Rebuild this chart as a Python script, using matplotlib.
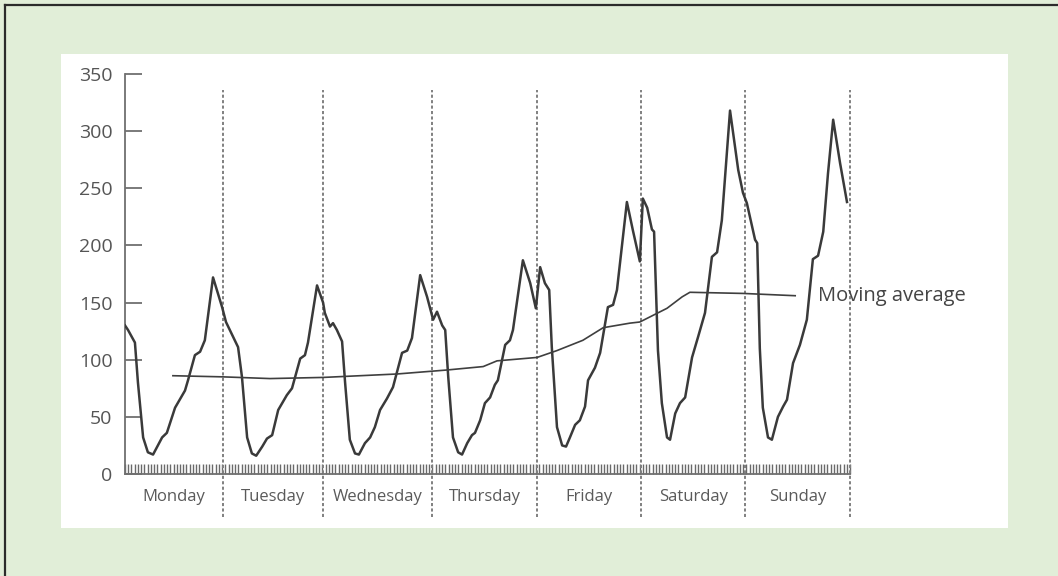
import numpy as np
import matplotlib.pyplot as plt
from matplotlib.patches import Rectangle
from matplotlib.lines import Line2D

# hourly demand (x in hours from Monday 00:00)
hours = [0.0, 0.7, 2.3, 3.0, 4.2, 5.3, 6.5, 8.6, 9.7, 11.6, 13.9, 14.6, 16.2, 17.4, 18.5,
         20.4, 22.5, 23.4, 24.3, 26.2, 27.1, 28.3, 29.4, 30.4, 31.8, 32.9, 34.1, 35.5,
         37.5, 38.7, 40.6, 41.7, 42.4, 44.5, 45.9, 46.3, 47.5, 48.2, 49.1, 50.3, 51.0,
         52.1, 53.3, 54.2, 55.6, 56.8, 57.9, 59.1, 60.7, 62.1, 64.2, 65.4, 66.5, 68.4,
         70.0, 71.4, 72.3, 73.5, 74.2, 74.9, 76.0, 77.2, 78.1, 79.3, 80.4, 81.1, 82.3,
         83.4, 84.6, 85.7, 86.4, 88.1, 89.2, 89.9, 92.2, 93.9, 95.2, 96.2, 97.3, 98.3,
         98.9, 100.1, 101.3, 102.2, 103.1, 104.3, 105.4, 106.6, 107.3, 108.9, 110.1,
         111.0, 111.9, 113.1, 114.0, 116.3, 117.7, 119.3, 120.0, 121.0, 122.1, 122.6,
         123.5, 124.4, 125.6, 126.3, 127.5, 128.6, 129.8, 131.4, 132.8, 134.4, 136.0,
         137.2, 138.3, 139.5, 140.2, 142.1, 143.2, 144.1, 146.0, 146.5, 147.1, 147.8,
         149.0, 149.9, 151.3, 152.5, 153.4, 154.8, 156.4, 158.0, 159.4, 160.6, 161.8,
         162.9, 164.1, 165.7, 167.3]
demand = [130, 126, 115, 80, 32, 19, 17, 32, 36, 58, 73, 82, 104, 107, 117,
          172, 146, 133, 126, 111, 85, 32, 18, 16, 24, 31, 34, 56,
          69, 75, 101, 104, 115, 165, 150, 141, 129, 132, 126, 116, 80,
          30, 18, 17, 27, 32, 41, 56, 66, 76, 106, 108, 119, 174,
          155, 135, 142, 130, 126, 85, 32, 19, 17, 27, 34, 36, 47,
          62, 67, 78, 82, 113, 117, 126, 187, 167, 145, 181, 167, 161,
          111, 41, 25, 24, 32, 43, 47, 59, 82, 93, 106,
          126, 146, 148, 161, 238, 213, 186, 241, 233, 214, 212,
          108, 62, 32, 30, 53, 62, 67, 102, 120, 141, 190,
          194, 222, 283, 318, 266, 246, 237, 205, 202, 110, 58,
          32, 30, 50, 59, 65, 97, 113, 135, 188, 191, 212,
          263, 310, 272, 238]

ma_hours = [11.1, 22.7, 33.6, 45.9, 63.0, 74.6, 83.0, 86.2, 95.5, 100.1, 106.1,
            110.8, 117.0, 119.3, 125.6, 129.1, 130.9, 143.2, 155.3]
ma_values = [86, 85, 83.5, 84.5, 87.5, 91, 94, 99, 102, 108, 117,
             128, 132, 133, 145, 155, 159, 158, 156]

days = ["Monday", "Tuesday", "Wednesday", "Thursday", "Friday", "Saturday", "Sunday"]
day_edges = [0, 22.7, 45.9, 71.1, 95.5, 119.6, 143.7, 168]
yticks = [0, 50, 100, 150, 200, 250, 300, 350]

plt.rcParams["font.family"] = ["Open Sans", "DejaVu Sans"]

fig = plt.figure(figsize=(10.58, 5.76), dpi=100)
fig.patch.set_facecolor("#e1eed8")

# white inner panel + frame lines
fig.add_artist(Rectangle((61 / 1058, 48 / 576), 947 / 1058, 474 / 576,
                         transform=fig.transFigure, facecolor="white",
                         edgecolor="none", zorder=-1))
fig.add_artist(Line2D([5 / 1058, 5 / 1058], [0, 571 / 576], transform=fig.transFigure,
                      color="#2b2b2b", lw=1.6))
fig.add_artist(Line2D([5 / 1058, 1], [571 / 576, 571 / 576], transform=fig.transFigure,
                      color="#2b2b2b", lw=1.6))

ax = fig.add_axes([125 / 1058, 102 / 576, 725 / 1058, 400 / 576])
ax.set_facecolor("none")

ax.plot(hours, demand, color="#3a3a3a", lw=1.8, solid_joinstyle="round", zorder=3)
ax.plot(ma_hours, ma_values, color="#3f3f3f", lw=1.2, zorder=3)
ax.text(160.6, 156, "Moving average", ha="left", va="center",
        fontsize=14.5, color="#444444")

# day separators
for x in day_edges[1:]:
    ax.plot([x, x], [-38, 336], color="#808080", lw=1.4,
            linestyle=(0, (1.6, 1.2)), clip_on=False, zorder=2)

for i, name in enumerate(days):
    ax.text((day_edges[i] + day_edges[i + 1]) / 2, -20, name,
            ha="center", va="center", fontsize=12, color="#5a5a5a")

ax.set_xlim(0, 168)
ax.set_ylim(0, 350)
ax.set_yticks(yticks)
ax.set_xticks([])
ax.set_xticks(np.arange(0, 168.01, 0.75), minor=True)

for side in ["top", "right"]:
    ax.spines[side].set_visible(False)
for side in ["left", "bottom"]:
    ax.spines[side].set_color("#707070")
    ax.spines[side].set_linewidth(1.3)

ax.tick_params(axis="y", direction="in", length=12, width=1.3, color="#707070",
               labelsize=14, labelcolor="#555555", pad=9)
ax.tick_params(axis="x", which="minor", direction="in", length=7.5, width=1.0,
               color="#6a6a6a")

fig.savefig("out.png", dpi=100, facecolor=fig.get_facecolor())
